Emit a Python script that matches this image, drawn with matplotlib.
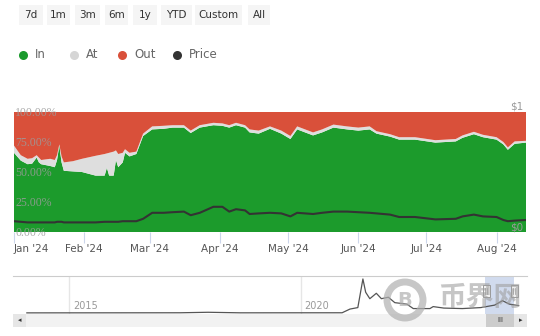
import numpy as np
import matplotlib
matplotlib.use("Agg")
import matplotlib.pyplot as plt
import matplotlib.dates as mdates
from matplotlib.patches import Rectangle, Circle

plt.rcParams['font.family'] = ['DejaVu Sans', 'Noto Sans CJK SC']

### data
dates = ['2024-01-01', '2024-01-04', '2024-01-07', '2024-01-09', '2024-01-11', '2024-01-12',
         '2024-01-13', '2024-01-17', '2024-01-19', '2024-01-20', '2024-01-21', '2024-01-22',
         '2024-01-23', '2024-01-27', '2024-01-31', '2024-02-06', '2024-02-10', '2024-02-11',
         '2024-02-12', '2024-02-14', '2024-02-15', '2024-02-16', '2024-02-18', '2024-02-19',
         '2024-02-21', '2024-02-24', '2024-02-27', '2024-03-02', '2024-03-07', '2024-03-11',
         '2024-03-16', '2024-03-19', '2024-03-23', '2024-03-29', '2024-04-02', '2024-04-05',
         '2024-04-08', '2024-04-12', '2024-04-14', '2024-04-18', '2024-04-23', '2024-04-28',
         '2024-05-02', '2024-05-05', '2024-05-12', '2024-05-16', '2024-05-21', '2024-05-27',
         '2024-06-01', '2024-06-06', '2024-06-09', '2024-06-15', '2024-06-19', '2024-06-26',
         '2024-07-05', '2024-07-14', '2024-07-17', '2024-07-22', '2024-07-26', '2024-08-01',
         '2024-08-04', '2024-08-06', '2024-08-09', '2024-08-14']
in_pct = [66, 59.5, 56.5, 57, 62, 58, 56.5, 55, 54, 60, 72, 58, 51, 50.5, 50, 47, 47, 53.5,
          47, 47, 60, 54, 58, 66, 63, 65, 80, 85.5, 86, 87, 87, 82.5, 87, 89, 88.5, 87,
          89, 87, 83, 82, 86, 82, 77.5, 85.5, 80.5, 83, 87, 85.5, 84.5, 85.5, 82, 79.5, 77, 77,
          74.5, 75.5, 78.5, 81.5, 79, 77, 73, 68.5, 73.5, 74.5]
at_pct = [6, 4.5, 4.5, 4.5, 2, 4, 3.5, 6, 6, 4, 1, 5, 7, 8.5, 11, 16.5, 18, 12,
          19, 20, 8, 11, 8, 3, 3, 2, 2, 2.5, 2.5, 2, 2, 2, 2, 2, 2, 2,
          2, 2, 2.5, 2.5, 2, 2.5, 2.5, 2.5, 2.5, 2.5, 2.5, 2.5, 2.5, 2.5, 2, 2, 2, 2,
          2, 2, 2, 2, 2, 2, 2, 2, 2, 1.5]
price = [0.09, 0.085, 0.08, 0.08, 0.08, 0.08, 0.08, 0.08, 0.08, 0.085, 0.085, 0.085, 0.08,
         0.08, 0.08, 0.08, 0.085, 0.085, 0.085, 0.085, 0.085, 0.085, 0.09, 0.09, 0.09, 0.09,
         0.11, 0.16, 0.16, 0.165, 0.17, 0.14, 0.16, 0.21, 0.21, 0.17, 0.19, 0.18, 0.15, 0.155,
         0.16, 0.155, 0.13, 0.16, 0.15, 0.16, 0.17, 0.17, 0.165, 0.16, 0.155, 0.145, 0.125,
         0.125, 0.105, 0.11, 0.13, 0.145, 0.13, 0.125, 0.1, 0.09, 0.095, 0.1]

# navigator (whole history, fractional years)
nav_years = [2014.08, 2017.4, 2018.0, 2018.7, 2020.9, 2021.07, 2021.24, 2021.35, 2021.41,
             2021.5, 2021.64, 2021.75, 2021.9, 2022.04, 2022.3, 2022.44, 2022.8, 2022.87,
             2023.1, 2023.5, 2023.9, 2024.2, 2024.37, 2024.52, 2024.72]
nav_price = [0.003, 0.005, 0.015, 0.004, 0.005, 0.08, 0.11, 0.69, 0.42, 0.29, 0.4, 0.29,
             0.32, 0.21, 0.18, 0.09, 0.09, 0.13, 0.1, 0.09, 0.11, 0.16, 0.25, 0.18, 0.15]

months = ["Jan '24", "Feb '24", "Mar '24", "Apr '24", "May '24", "Jun '24", "Jul '24", "Aug '24"]
buttons = ['7d', '1m', '3m', '6m', '1y', 'YTD', 'Custom', 'All']
series = ['In', 'At', 'Out', 'Price']
colors = ['#1c9b2c', '#dedede', '#d9503a', '#333333']

dt = np.array(dates, dtype='datetime64[D]')
out_pct = 100 - np.array(in_pct) - np.array(at_pct)

W, H = 540, 336
fig = plt.figure(figsize=(W / 100, H / 100), dpi=100)


def rect(x0, y0, x1, y1):
    return [x0 / W, 1 - y1 / H, (x1 - x0) / W, (y1 - y0) / H]


### top part: buttons + legend
top = fig.add_axes([0, 0, 1, 1])
top.set_xlim(0, W)
top.set_ylim(H, 0)
top.axis('off')
btn_x = [(19, 43), (47, 70), (75, 100), (105, 128), (133, 157), (161, 192), (195, 242), (248, 270)]
for (a, b), lab in zip(btn_x, buttons):
    top.add_patch(Rectangle((a, 5), b - a, 20, color='#f5f5f5', lw=0))
    top.text((a + b) / 2, 15.5, lab, ha='center', va='center', fontsize=7.5, color='#333333')
leg_x = [23, 74, 122, 177]
leg_c = ['#1a9a2c', '#d6d6d6', '#d9503a', '#333333']
for lx, lab, c in zip(leg_x, series, leg_c):
    top.plot(lx, 55, 'o', ms=6.5, color=c, mec='none')
    top.text(lx + 12, 55, lab, ha='left', va='center', fontsize=8.5, color='#666666')

### main chart
ax = fig.add_axes(rect(14, 112, 526, 232))
ax.stackplot(dt, in_pct, at_pct, out_pct, colors=colors[:3], lw=0)
ax.set_xlim(np.datetime64('2024-01-01'), np.datetime64('2024-08-14'))
ax.set_ylim(0, 100)
for s in ax.spines.values():
    s.set_visible(False)
ax.xaxis.set_major_locator(mdates.MonthLocator())
ax.set_xticks(ax.get_xticks())
ax.set_xticklabels(months, fontsize=7.5, color='#555555')
ax.get_xticklabels()[0].set_ha('left')
ax.tick_params(axis='x', length=8, color='#ccd6eb', pad=1)
ax.set_yticks([0, 25, 50, 75, 100])
ax.set_yticklabels(['0.00%', '25.00%', '50.00%', '75.00%', '100.00%'],
                   fontsize=8.5, color='#9c9c9c', family='Liberation Serif')
ax.tick_params(axis='y', length=0, pad=-1)
for l in ax.get_yticklabels():
    l.set_ha('left')
    l.set_alpha(0.85)

ax2 = ax.twinx()
ax2.plot(dt, price, color=colors[3], lw=1.5)
ax2.set_ylim(0, 1)
for s in ax2.spines.values():
    s.set_visible(False)
ax2.set_yticks([0, 1])
ax2.set_yticklabels(['$0', '$1'], fontsize=7.5, color='#999999')
ax2.tick_params(axis='y', length=0, pad=-2)
for l in ax2.get_yticklabels():
    l.set_ha('right')
    l.set_va('bottom')

### navigator
nav = fig.add_axes(rect(13, 276, 527, 314))
nav.set_xlim(2013.78, 2024.9)
nav.set_ylim(-0.02, 0.75)
nav.axvspan(2024.0, 2024.62, color='#d1dbee', lw=0)
for yr in (2015, 2020):
    nav.axvline(yr, color='#e6e6e6', lw=1)
    nav.text(yr + 0.08, 0.04, str(yr), fontsize=7, color='#999999', va='bottom')
nav.plot(nav_years, nav_price, color='#555555', lw=0.9)
nav.set_xticks([])
nav.set_yticks([])
for k, s in nav.spines.items():
    s.set_visible(k == 'top')
nav.spines['top'].set_color('#cccccc')

### scrollbar + handles drawn in pixel space
sb = fig.add_axes([0, 0, 1, 1])
sb.set_xlim(0, W)
sb.set_ylim(H, 0)
sb.axis('off')
sb.add_patch(Rectangle((13, 314), 514, 13, color='#f2f2f2', lw=0))
sb.add_patch(Rectangle((13, 314), 13, 13, color='#e6e6e6', lw=0))
sb.add_patch(Rectangle((514, 314), 13, 13, color='#e6e6e6', lw=0))
sb.add_patch(Rectangle((486, 314), 28, 13, color='#cccccc', lw=0))
sb.text(19.5, 320.5, '◂', ha='center', va='center', fontsize=5, color='#333333')
sb.text(520.5, 320.5, '▸', ha='center', va='center', fontsize=5, color='#333333')
sb.text(500, 320.5, 'III', ha='center', va='center', fontsize=5, color='#333333')
for hx in (486, 514):
    sb.add_patch(Rectangle((hx - 3.5, 285), 7, 12, facecolor='#f2f2f2', edgecolor='#999999', lw=0.7))
    sb.plot([hx - 1, hx - 1], [288, 294], color='#999999', lw=0.5)
    sb.plot([hx + 1, hx + 1], [288, 294], color='#999999', lw=0.5)

# watermark
sb.add_patch(Circle((405, 300), 18, fill=False, ec='#b0b0b0', lw=5, alpha=0.7))
sb.text(405, 300, 'B', ha='center', va='center', fontsize=14, fontweight='bold', color='#b0b0b0', alpha=0.7)
sb.text(480, 298, '币界网', ha='center', va='center', fontsize=20, fontweight='bold',
        color='#a0a0a0', alpha=0.6, family=['Noto Sans CJK SC', 'DejaVu Sans'])

fig.savefig('out.png', dpi=100)
